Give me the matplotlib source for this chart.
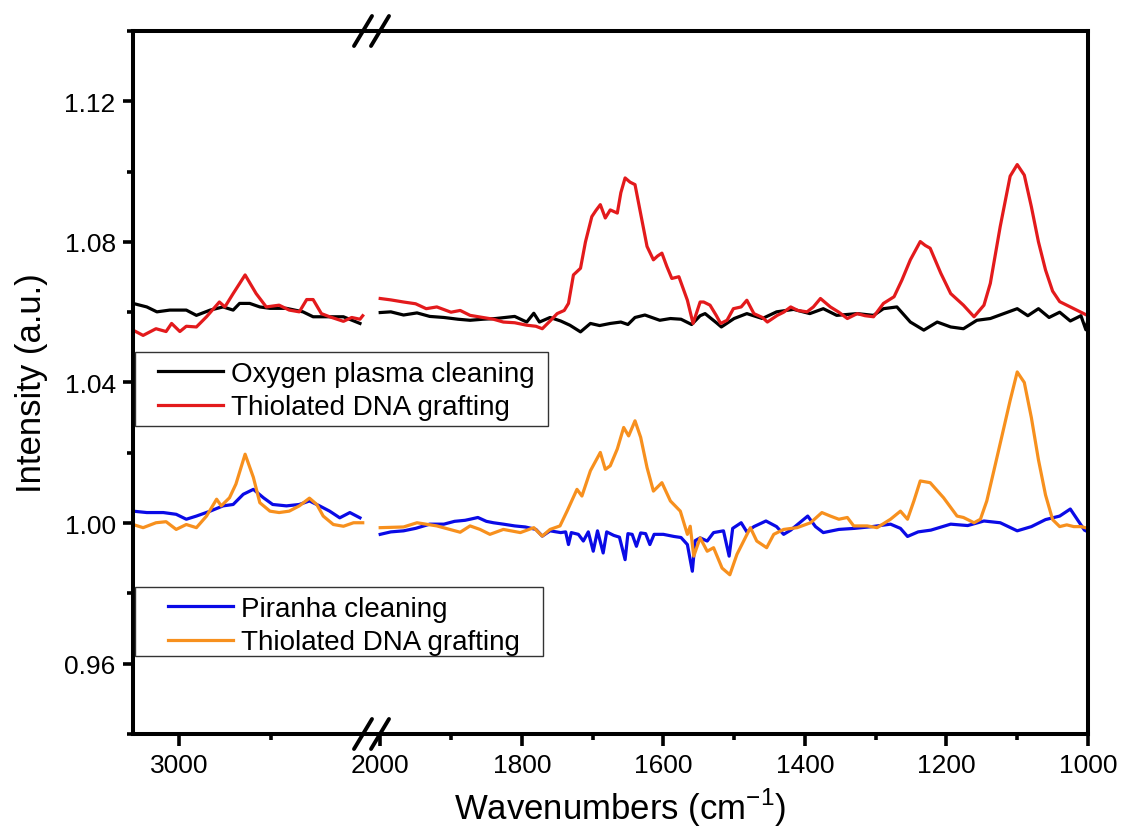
import matplotlib
matplotlib.use("Agg")
import matplotlib.pyplot as plt
from matplotlib.lines import Line2D
from matplotlib.patches import Rectangle
from matplotlib.ticker import FixedLocator, FormatStrFormatter, MultipleLocator

plt.rcParams['font.family'] = ['Liberation Sans', 'DejaVu Sans']
plt.rcParams['mathtext.fontset'] = 'custom'
plt.rcParams['mathtext.rm'] = 'Liberation Sans'

# ---- data: high wavenumber window (C-H stretch) ----
o2_hi_wn = [3050, 3035, 3024, 3010, 2992, 2981, 2966, 2952, 2941, 2934, 2923, 2912, 2901, 2883,
            2865, 2854, 2836, 2821, 2803]
o2_hi = [1.0625, 1.0615, 1.0601, 1.0606, 1.0606, 1.0591, 1.0606, 1.0615, 1.0606, 1.0625, 1.0625,
         1.0615, 1.0611, 1.0611, 1.0601, 1.0587, 1.0587, 1.0587, 1.0568]

dna1_hi_wn = [3050, 3039, 3025, 3014, 3008, 2999, 2992, 2981, 2970, 2956, 2950, 2941, 2928, 2916,
              2905, 2891, 2880, 2869, 2861, 2854, 2845, 2836, 2821, 2812, 2803, 2800]
dna1_hi = [1.0549, 1.0534, 1.0553, 1.0545, 1.0568, 1.0545, 1.0560, 1.0558, 1.0587, 1.0629, 1.0615,
           1.0653, 1.0706, 1.0653, 1.0615, 1.0620, 1.0606, 1.0601, 1.0636, 1.0636, 1.0596, 1.0587,
           1.0574, 1.0585, 1.0580, 1.0590]

pir_hi_wn = [3050, 3035, 3017, 3003, 2992, 2981, 2966, 2952, 2941, 2930, 2919, 2908, 2898, 2883,
             2869, 2858, 2847, 2836, 2825, 2814, 2803]
pir_hi = [1.0034, 1.0030, 1.0030, 1.0025, 1.0011, 1.0020, 1.0034, 1.0049, 1.0053, 1.0082, 1.0096,
          1.0072, 1.0053, 1.0049, 1.0053, 1.0063, 1.0049, 1.0034, 1.0015, 1.0030, 1.0015]

dna2_hi_wn = [3050, 3039, 3025, 3014, 3003, 2992, 2981, 2970, 2959, 2954, 2945, 2938, 2928, 2919,
              2912, 2901, 2891, 2880, 2869, 2858, 2850, 2843, 2832, 2821, 2810, 2800]
dna2_hi = [0.9996, 0.9987, 1.0001, 1.0004, 0.9982, 0.9996, 0.9987, 1.0020, 1.0068, 1.0049, 1.0072,
           1.0111, 1.0196, 1.0130, 1.0058, 1.0034, 1.0030, 1.0034, 1.0049, 1.0071, 1.0053, 1.0020,
           0.9996, 0.9991, 1.0001, 1.0001]

# ---- data: fingerprint window ----
o2_lo_wn = [2000, 1985, 1967, 1948, 1930, 1910, 1890, 1873, 1855, 1837, 1810, 1793, 1783, 1775,
            1760, 1745, 1732, 1717, 1703, 1690, 1675, 1660, 1650, 1640, 1626, 1605, 1590, 1575,
            1560, 1548, 1541, 1525, 1518, 1500, 1482, 1460, 1440, 1416, 1393, 1374, 1355, 1326,
            1303, 1289, 1270, 1251, 1232, 1213, 1194, 1176, 1157, 1138, 1119, 1100, 1085, 1070,
            1055, 1040, 1025, 1010, 1003, 1000]
o2_lo = [1.0599, 1.0601, 1.0592, 1.0598, 1.0588, 1.0585, 1.0580, 1.0577, 1.0580, 1.0582, 1.0588,
         1.0572, 1.0597, 1.0572, 1.0585, 1.0575, 1.0563, 1.0544, 1.0568, 1.0562, 1.0568, 1.0572,
         1.0565, 1.0585, 1.0592, 1.0577, 1.0582, 1.0580, 1.0565, 1.0590, 1.0596, 1.0570, 1.0558,
         1.0582, 1.0596, 1.0582, 1.0601, 1.0608, 1.0596, 1.0610, 1.0591, 1.0596, 1.0591, 1.0610,
         1.0615, 1.0572, 1.0549, 1.0572, 1.0558, 1.0553, 1.0577, 1.0582, 1.0596, 1.0610, 1.0590,
         1.0610, 1.0585, 1.0600, 1.0575, 1.0590, 1.0550, 1.0580]

dna1_lo_wn = [2000, 1985, 1967, 1950, 1935, 1920, 1900, 1887, 1873, 1855, 1840, 1826, 1810, 1793,
              1780, 1771, 1760, 1750, 1740, 1734, 1727, 1717, 1710, 1701, 1695, 1689, 1682, 1675,
              1665, 1660, 1654, 1647, 1640, 1632, 1623, 1614, 1608, 1602, 1595, 1588, 1578, 1566,
              1558, 1548, 1543, 1534, 1525, 1519, 1510, 1501, 1490, 1482, 1472, 1460, 1453, 1439,
              1430, 1420, 1410, 1397, 1388, 1378, 1364, 1352, 1340, 1326, 1315, 1303, 1289, 1274,
              1263, 1251, 1237, 1230, 1223, 1208, 1194, 1176, 1161, 1147, 1138, 1124, 1110, 1100,
              1090, 1080, 1070, 1060, 1050, 1040, 1030, 1020, 1010, 1000]
dna1_lo = [1.0639, 1.0635, 1.0629, 1.0624, 1.0610, 1.0615, 1.0600, 1.0605, 1.0591, 1.0585, 1.0580,
           1.0572, 1.0570, 1.0563, 1.0560, 1.0553, 1.0575, 1.0596, 1.0605, 1.0625, 1.0706, 1.0725,
           1.0800, 1.0872, 1.0890, 1.0906, 1.0868, 1.0891, 1.0882, 1.0940, 1.0982, 1.0970, 1.0963,
           1.0880, 1.0787, 1.0749, 1.0760, 1.0768, 1.0730, 1.0696, 1.0701, 1.0634, 1.0568, 1.0629,
           1.0629, 1.0620, 1.0590, 1.0568, 1.0577, 1.0610, 1.0615, 1.0634, 1.0596, 1.0585, 1.0572,
           1.0591, 1.0600, 1.0615, 1.0605, 1.0601, 1.0615, 1.0639, 1.0615, 1.0600, 1.0582, 1.0596,
           1.0590, 1.0587, 1.0625, 1.0644, 1.0691, 1.0749, 1.0801, 1.0790, 1.0782, 1.0711, 1.0653,
           1.0620, 1.0587, 1.0620, 1.0682, 1.0844, 1.0987, 1.1020, 1.0990, 1.0900, 1.0800, 1.0720,
           1.0660, 1.0630, 1.0620, 1.0610, 1.0600, 1.0590]

pir_lo_wn = [2000, 1985, 1967, 1950, 1930, 1910, 1895, 1880, 1873, 1862, 1850, 1840, 1826, 1810,
             1795, 1780, 1771, 1760, 1745, 1738, 1734, 1730, 1720, 1713, 1706, 1699, 1693, 1685,
             1680, 1670, 1662, 1654, 1650, 1644, 1638, 1632, 1625, 1619, 1613, 1600, 1585, 1575,
             1566, 1559, 1555, 1548, 1538, 1529, 1515, 1507, 1502, 1490, 1482, 1472, 1455, 1440,
             1430, 1420, 1396, 1385, 1374, 1352, 1330, 1305, 1279, 1265, 1255, 1240, 1222, 1194,
             1170, 1147, 1124, 1100, 1080, 1060, 1040, 1025, 1015, 1005, 1000]
pir_lo = [0.9968, 0.9975, 0.9978, 0.9985, 0.9997, 0.9997, 1.0005, 1.0008, 1.0011, 1.0016, 1.0005,
          1.0001, 0.9997, 0.9992, 0.9989, 0.9982, 0.9963, 0.9978, 0.9973, 0.9975, 0.9939, 0.9973,
          0.9968, 0.9949, 0.9975, 0.9920, 0.9978, 0.9915, 0.9975, 0.9965, 0.9960, 0.9896, 0.9970,
          0.9968, 0.9934, 0.9972, 0.9970, 0.9939, 0.9968, 0.9968, 0.9962, 0.9959, 0.9939, 0.9863,
          0.9950, 0.9958, 0.9949, 0.9973, 0.9978, 0.9906, 0.9985, 1.0001, 0.9975, 0.9990, 1.0006,
          0.9990, 0.9968, 0.9980, 1.0020, 0.9990, 0.9973, 0.9982, 0.9985, 0.9990, 0.9997, 0.9985,
          0.9962, 0.9975, 0.9980, 0.9997, 0.9993, 1.0006, 1.0001, 0.9978, 0.9990, 1.0010, 1.0020,
          1.0040, 1.0010, 0.9980, 0.9975]

dna2_lo_wn = [2000, 1967, 1948, 1920, 1887, 1873, 1859, 1845, 1826, 1802, 1783, 1771, 1760, 1746,
              1736, 1722, 1715, 1703, 1689, 1682, 1675, 1665, 1656, 1649, 1640, 1632, 1623, 1614,
              1602, 1590, 1576, 1566, 1562, 1557, 1548, 1538, 1529, 1517, 1506, 1496, 1477, 1468,
              1454, 1444, 1430, 1411, 1392, 1376, 1364, 1352, 1340, 1331, 1312, 1298, 1279, 1265,
              1255, 1246, 1237, 1223, 1204, 1185, 1176, 1161, 1152, 1143, 1133, 1121, 1110, 1100,
              1090, 1080, 1070, 1060, 1050, 1040, 1030, 1020, 1010, 1000]
dna2_lo = [0.9987, 0.9989, 1.0001, 0.9992, 0.9974, 0.9992, 0.9982, 0.9968, 0.9982, 0.9973, 0.9987,
           0.9963, 0.9982, 0.9992, 1.0034, 1.0096, 1.0077, 1.0149, 1.0201, 1.0153, 1.0163, 1.0211,
           1.0272, 1.0248, 1.0291, 1.0244, 1.0158, 1.0091, 1.0115, 1.0063, 1.0034, 0.9968, 0.9991,
           0.9906, 0.9958, 0.9920, 0.9930, 0.9872, 0.9853, 0.9911, 0.9987, 0.9949, 0.9930, 0.9968,
           0.9982, 0.9987, 1.0001, 1.0030, 1.0020, 1.0011, 1.0016, 0.9992, 0.9992, 0.9987, 1.0011,
           1.0034, 1.0011, 1.0063, 1.0120, 1.0115, 1.0072, 1.0020, 1.0016, 1.0001, 1.0011, 1.0063,
           1.0149, 1.0253, 1.0349, 1.0430, 1.0400, 1.0300, 1.0180, 1.0080, 1.0010, 0.9990, 0.9995,
           0.9990, 0.9990, 0.9985]

labels_top = ['Oxygen plasma cleaning', 'Thiolated DNA grafting']
labels_bottom = ['Piranha cleaning', 'Thiolated DNA grafting']
c_o2, c_dna1, c_pir, c_dna2 = '#000000', '#e31a1c', '#0a0ae6', '#f7901e'

W, H = 1122, 828
fig = plt.figure(figsize=(W / 100, H / 100), dpi=100)


def fx(px):
    return px / W


def fy(py):
    return 1 - py / H


x0, xb, x1 = 133, 371, 1088
y_top, y_bot = 32, 735
ax_hi = fig.add_axes([fx(x0), fy(y_bot), (xb - x0) / W, (y_bot - y_top) / H])
ax_lo = fig.add_axes([fx(xb), fy(y_bot), (x1 - xb) / W, (y_bot - y_top) / H])

lw = 2.3
ax_hi.plot(o2_hi_wn, o2_hi, color=c_o2, lw=lw)
ax_hi.plot(dna1_hi_wn, dna1_hi, color=c_dna1, lw=lw)
ax_hi.plot(pir_hi_wn, pir_hi, color=c_pir, lw=lw)
ax_hi.plot(dna2_hi_wn, dna2_hi, color=c_dna2, lw=lw)

l1, = ax_lo.plot(o2_lo_wn, o2_lo, color=c_o2, lw=lw)
l2, = ax_lo.plot(dna1_lo_wn, dna1_lo, color=c_dna1, lw=lw)
l3, = ax_lo.plot(pir_lo_wn, pir_lo, color=c_pir, lw=lw)
l4, = ax_lo.plot(dna2_lo_wn, dna2_lo, color=c_dna2, lw=lw)

ax_hi.set_xlim(3050, 2791)
ax_lo.set_xlim(2013, 1000)
for ax in (ax_hi, ax_lo):
    ax.set_ylim(0.94, 1.14)
    for s in ax.spines.values():
        s.set_linewidth(2.9)
    ax.tick_params(which='major', direction='out', length=8.5, width=2.6, labelsize=19, pad=5)
    ax.tick_params(which='minor', direction='out', length=4.5, width=2.6)
    ax.tick_params(top=False, right=False)
    ax.tick_params(axis='y', which='major', length=7.5)

ax_hi.spines['right'].set_visible(False)
ax_lo.spines['left'].set_visible(False)
ax_lo.tick_params(axis='y', which='both', left=False, labelleft=False)

ax_hi.xaxis.set_major_locator(FixedLocator([3000]))
ax_hi.xaxis.set_minor_locator(FixedLocator([2900]))
ax_lo.xaxis.set_major_locator(MultipleLocator(200))
ax_lo.xaxis.set_minor_locator(MultipleLocator(100))
ax_hi.yaxis.set_major_locator(MultipleLocator(0.04))
ax_hi.yaxis.set_minor_locator(MultipleLocator(0.02))
ax_hi.yaxis.set_major_formatter(FormatStrFormatter('%.2f'))

# axis break marks
for yc in (y_top, y_bot):
    for xc in (363, 380):
        fig.add_artist(Line2D([fx(xc - 9), fx(xc + 9)], [fy(yc + 15), fy(yc - 15)],
                              transform=fig.transFigure, color='black', lw=2.8,
                              solid_capstyle='round'))

fig.text(fx(620), fy(808), 'Wavenumbers (cm$^{\\mathregular{-1}}$)', ha='center',
         va='center', fontsize=25)
fig.text(fx(32), fy(383), 'Intensity (a.u.)', rotation=90, ha='center', va='center',
         fontsize=25)

# legend boxes (frames drawn separately to match the original boxes)
fig.add_artist(Rectangle((fx(135), fy(427)), (548 - 135) / W, (427 - 353) / H,
                         transform=fig.transFigure, facecolor='white', edgecolor='#333333',
                         lw=1, zorder=3))
fig.add_artist(Rectangle((fx(135), fy(657)), (543 - 135) / W, (657 - 588) / H,
                         transform=fig.transFigure, facecolor='white', edgecolor='#333333',
                         lw=1, zorder=3))

leg_kw = dict(loc='upper left', bbox_transform=fig.transFigure, borderaxespad=0, borderpad=0,
              fontsize=20, handlelength=2.34, handletextpad=0.3, labelspacing=0.27,
              frameon=False)
leg1 = fig.legend([l1, l2], labels_top, bbox_to_anchor=(fx(158), fy(362)), **leg_kw)
leg2 = fig.legend([l3, l4], labels_bottom, bbox_to_anchor=(fx(168), fy(597)), **leg_kw)
leg1.set_zorder(4)
leg2.set_zorder(4)

fig.savefig('out.png', dpi=100)
